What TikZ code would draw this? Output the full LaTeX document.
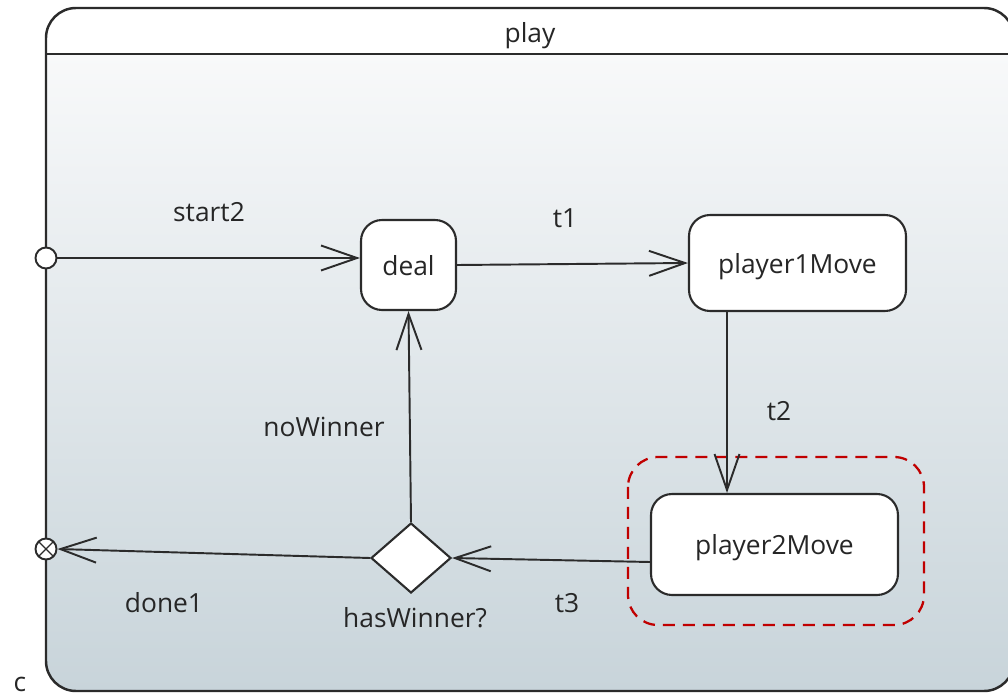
\documentclass[tikz,border=0pt]{standalone}
\usepackage{fontspec}
\setmainfont{Open Sans}
\usetikzlibrary{arrows.meta,shapes.geometric}

\definecolor{linegray}{HTML}{2B2B2B}
\definecolor{bodytop}{HTML}{F8F9FA}
\definecolor{bodybottom}{HTML}{C8D4DA}
\definecolor{markred}{HTML}{C00000}

\begin{document}
\begin{tikzpicture}[x=0.02cm, y=-0.02cm,
		font=\fontsize{15}{18}\selectfont, text=black!85,
		state/.style={draw=linegray, fill=white, line width=1.2pt, rounded corners=0.42cm, inner sep=0pt, text depth=0pt},
		choice/.style={draw=linegray, fill=white, line width=1.2pt, diamond, inner sep=0pt, minimum width=1.6cm, minimum height=1.4cm},
		pin/.style={draw=linegray, fill=white, line width=1.1pt, circle, inner sep=0pt, minimum size=0.42cm},
		trans/.style={draw=linegray, line width=1.1pt, -{Straight Barb[length=0.72cm, width=0.5cm, line width=1.1pt]}},
		lbl/.style={inner sep=1pt}]
	%%%%% FRAME %%%%%
	\useasboundingbox (0,0) rectangle (1008,696);
	\path[fill=white, rounded corners=0.6cm] (46,8) rectangle (1014,691);
	\shade[top color=bodytop, bottom color=bodybottom] (46,54) [rounded corners=0.6cm] -- (46,691) -- (1014,691) [sharp corners] -- (1014,54) -- cycle;
	\draw[linegray, line width=1.4pt, rounded corners=0.6cm] (46,8) rectangle (1014,691);
	\draw[linegray, line width=1.4pt] (46,54) -- (1014,54);
	\node[lbl] (title) at (530,36) {play};
	
	%%%%% STATES %%%%%
	\node[state, minimum width=1.9cm, minimum height=1.8cm] (deal) at (408.5,265) {deal};
	\node[state, minimum width=4.34cm, minimum height=1.92cm] (p1move) at (797.5,263) {player1Move};
	\node[state, minimum width=4.94cm, minimum height=2.02cm] (p2move) at (774.5,544.5) {player2Move};
	\node[choice] (winner) at (411,558) {};
	\draw[markred, line width=1.3pt, dash pattern=on 0.24cm off 0.16cm, rounded corners=0.6cm] (628,457) rectangle (924,625);
	
	\node[pin] (entry) at (46,258) {};
	\node[pin, path picture={
		\draw[linegray, line width=0.8pt] (path picture bounding box.north west) -- (path picture bounding box.south east)
			(path picture bounding box.north east) -- (path picture bounding box.south west);}] (exit) at (46,549) {};
	
	%%%%% TRANSITIONS %%%%%
	\draw[trans] (entry.east) -- (deal.west |- entry);
	\draw[trans] (deal.east) -- (p1move.west);
	\draw[trans] ([xshift=-1.41cm]p1move.south) -- ([xshift=-0.95cm]p2move.north);
	\draw[trans] ([yshift=-0.35cm]p2move.west) -- (winner.east);
	\draw[trans] (winner.north) -- (deal.south);
	\draw[trans] (winner.west) -- (exit.east);
	
	%%%%% LABELS %%%%%
	\node[lbl] (start2) at (209,212) {start2};
	\node[lbl] (t1) at (565,218) {t1};
	\node[lbl] (t2) at (779,411) {t2};
	\node[lbl] (nowin) at (324,427) {noWinner};
	\node[lbl] (done1) at (164,603) {done1};
	\node[lbl] (t3) at (567,603) {t3};
	\node[lbl] (haswin) at (415,618) {hasWinner?};
	\node[lbl] (stray) at (20,684) {c};
\end{tikzpicture}
\end{document}
